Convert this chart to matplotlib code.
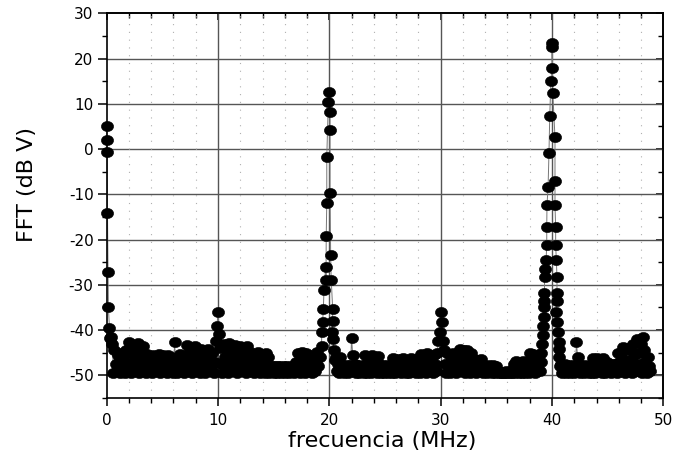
import numpy as np
import matplotlib
matplotlib.use("Agg")
import matplotlib.pyplot as plt
from matplotlib.ticker import MultipleLocator
from matplotlib.path import Path

plt.rcParams['font.family'] = ['DejaVu Sans']
plt.rcParams['axes.unicode_minus'] = False

# ---------------- data (MHz, dB V) ----------------
dc_freq = [0.00, 0.02, 0.04, 0.07, 0.12, 0.15, 0.25, 0.32]
dc_db = [5.1, 2.1, -0.6, -14.1, -27.2, -34.9, -39.6, -41.8]

bin_width = 0.1

# noise floor 0.4 .. 19.0 MHz (includes small 10 MHz line)
noise_a_start = 0.4
noise_a_db = [
    -41.5, -43.0, -49.5, -44.5, -47.5, -49.0, -45.5, -47.0, -49.5, -45.0,
    -48.0, -46.5, -49.5, -44.5, -47.5, -49.0, -42.6, -45.0, -49.5, -47.0,
    -43.5, -49.0, -45.5, -47.5, -42.8, -49.5, -44.5, -46.5, -49.0, -43.5,
    -47.5, -49.5, -45.2, -47.0, -49.0, -46.0, -48.0, -49.5, -45.5, -47.5,
    -49.0, -46.0, -48.5, -45.2, -49.5, -47.0, -48.5, -45.5, -49.0, -47.0,
    -49.5, -45.5, -47.5, -49.0, -46.0, -48.5, -49.5, -42.7, -47.5, -49.5,
    -46.5, -48.5, -45.2, -49.0, -47.0, -49.5, -45.5, -48.0, -43.4, -46.0,
    -49.0, -44.0, -47.5, -49.5, -45.5, -43.6, -48.0, -49.0, -45.0, -47.0,
    -49.5, -44.1, -46.5, -48.5, -49.5, -45.0, -47.5, -44.2, -49.0, -46.5,
    -48.5, -45.0, -49.5, -47.0, -42.3, -39.0, -36.0, -40.8, -44.0, -47.5,
    -49.5, -43.0, -46.0, -48.5, -44.5, -49.5, -42.9, -47.0, -45.5, -49.0,
    -46.5, -43.3, -48.5, -49.5, -45.0, -47.5, -43.5, -49.0, -46.5, -48.0,
    -45.0, -49.5, -43.5, -47.0, -49.0, -44.8, -46.5, -48.5, -49.5, -45.5,
    -47.5, -49.0, -44.8, -46.5, -49.5, -48.0, -45.5, -47.0, -49.5, -45.0,
    -48.0, -46.0, -49.5, -47.9, -49.0, -48.0, -49.5, -47.9, -48.8, -49.5,
    -48.0, -49.0, -47.9, -49.5, -48.5, -48.0, -49.5, -47.9, -49.0, -48.2,
    -49.5, -48.0, -49.0, -47.9, -49.5, -48.5, -47.0, -49.0, -45.0, -47.5,
    -49.5, -44.8, -46.5, -48.5, -49.5, -45.0, -47.0, -49.0, -45.5, -48.0,
    -49.5, -46.3, -48.0, -49.0, -46.5, -44.8, -48.0,
]

peak20_freq = [19.20, 19.30, 19.32, 19.40, 19.46, 19.52, 19.67, 19.70, 19.72,
               19.77, 19.77, 19.91, 19.97,
               20.06, 20.06, 20.06, 20.12, 20.17, 20.30, 20.30, 20.25, 20.36,
               20.40, 20.50]
peak20_db = [-46.0, -43.5, -40.4, -38.2, -35.3, -31.2, -26.0, -28.9, -19.1,
             -11.9, -1.7, 10.4, 12.6,
             8.2, 4.2, -9.7, -23.5, -28.9, -35.3, -38.0, -40.4, -42.0,
             -44.5, -46.5]

# noise floor 20.6 .. 38.8 MHz (includes small 30 MHz line)
noise_b_start = 20.6
noise_b_db = [
    -46.0, -49.0, -47.5, -49.5, -46.0, -48.5, -47.8, -49.5, -48.0, -49.0,
    -47.8, -49.5, -48.5, -47.8, -41.8, -45.6, -49.0, -47.5, -49.5, -48.0,
    -47.8, -49.5, -48.5, -49.0, -47.8, -49.5, -45.6, -47.5, -49.5, -46.0,
    -48.5, -49.5, -45.6, -47.0, -49.0, -46.5, -48.5, -49.5, -45.8, -47.5,
    -49.5, -48.0, -47.8, -49.5, -48.5, -49.0, -47.8, -49.5, -48.5, -47.9,
    -49.5, -46.2, -48.0, -49.5, -47.0, -49.0, -46.3, -48.5, -49.5, -47.0,
    -46.2, -49.0, -48.0, -49.5, -46.5, -47.5, -49.5, -46.2, -48.5, -49.0,
    -47.0, -46.3, -49.5, -48.0, -47.0, -49.5, -45.2, -47.5, -49.0, -46.0,
    -48.5, -49.5, -45.0, -47.0, -49.0, -46.0, -48.0, -49.5, -45.5, -47.5,
    -49.0, -45.0, -42.3, -40.4, -36.0, -38.2, -42.3, -44.5, -47.5, -49.5,
    -45.0, -47.5, -49.5, -46.0, -48.5, -45.0, -49.0, -47.0, -49.5, -45.5,
    -47.5, -44.2, -49.0, -46.0, -48.5, -44.5, -49.5, -46.5, -44.3, -48.0,
    -49.5, -45.0, -47.5, -49.0, -46.3, -48.0, -49.5, -46.5, -48.5, -49.0,
    -46.3, -48.0, -49.5, -47.8, -49.0, -48.5, -49.5, -47.8, -49.0, -48.5,
    -49.5, -47.8, -48.8, -49.5, -48.0, -49.0, -49.5, -49.3, -49.5, -49.2,
    -49.5, -49.3, -49.5, -49.0, -49.5, -49.3, -49.5, -49.2, -49.5, -48.5,
    -47.5, -49.5, -46.8, -48.5, -49.5, -47.0, -48.5, -49.5, -46.8, -48.0,
    -49.5, -47.0, -48.5, -49.5, -45.0, -47.5, -49.0, -45.2, -48.0, -49.5,
    -46.5, -48.5, -45.5,
]

peak40_freq = [38.95, 39.00, 39.05, 39.10, 39.15, 39.20, 39.25, 39.28, 39.30,
               39.32, 39.34, 39.40, 39.47, 39.53, 39.53, 39.55, 39.65, 39.73,
               39.80, 39.90, 40.00, 40.00, 40.02,
               40.07, 40.27, 40.27, 40.27, 40.33, 40.33, 40.39, 40.45, 40.45,
               40.45, 40.40, 40.45, 40.51, 40.60, 40.63, 40.65, 40.70]
peak40_db = [-49.0, -47.0, -45.0, -43.0, -41.0, -39.0, -37.0, -35.0, -33.6,
             -31.8, -28.3, -26.4, -24.4, -21.3, -17.2, -12.4, -8.4, -0.8,
             7.3, 15.0, 18.0, 22.6, 23.4,
             12.4, 2.6, -7.0, -12.4, -17.2, -21.3, -24.4, -28.3, -31.8,
             -33.6, -36.0, -38.2, -40.4, -42.7, -44.1, -46.0, -48.0]

# noise floor 40.8 .. 48.8 MHz
noise_c_start = 40.8
noise_c_db = [
    -47.5, -49.5, -48.5, -49.0, -47.5, -49.5, -48.0, -47.8, -49.5, -48.5,
    -49.0, -47.8, -49.5, -48.0, -42.7, -45.9, -48.5, -49.5, -47.8, -49.0,
    -48.0, -49.5, -47.8, -49.0, -48.5, -49.5, -47.8, -49.0, -49.5, -46.2,
    -48.0, -49.5, -46.2, -47.5, -49.0, -46.5, -48.5, -49.5, -46.2, -48.0,
    -49.5, -47.0, -47.5, -49.0, -48.5, -49.5, -47.5, -48.5, -49.0, -47.5,
    -49.5, -45.0, -47.0, -49.0, -45.2, -48.5, -43.8, -46.5, -49.5, -44.0,
    -47.0, -49.0, -44.5, -46.5, -49.5, -43.0, -45.5, -48.0, -42.0, -49.0,
    -45.0, -47.5, -43.0, -49.5, -41.5, -44.5, -47.0, -49.5, -46.0, -48.0,
    -49.0,
]


def bins(start, vals):
    return list(np.round(start + bin_width * np.arange(len(vals)), 3))


freq = (dc_freq + bins(noise_a_start, noise_a_db) + peak20_freq
        + bins(noise_b_start, noise_b_db) + peak40_freq
        + bins(noise_c_start, noise_c_db))
fft_db = (dc_db + noise_a_db + peak20_db + noise_b_db + peak40_db + noise_c_db)

# slightly wide elliptical dot, as in the scanned original
_c = Path.unit_circle()
dot = Path(_c.vertices * np.array([1.2, 1.0]), _c.codes)

# ---------------- figure ----------------
W, H = 674, 471
fig = plt.figure(figsize=(W / 100, H / 100), dpi=100)
ax = fig.add_axes([106.7 / W, 1 - 398 / H, (663.3 - 106.7) / W, (398 - 13.3) / H])

ax.set_xlim(0, 50)
ax.set_ylim(-55, 30)

ax.xaxis.set_major_locator(MultipleLocator(10))
ax.xaxis.set_minor_locator(MultipleLocator(2))
ax.yaxis.set_major_locator(MultipleLocator(10))
ax.yaxis.set_minor_locator(MultipleLocator(5))

# grid
for xv in range(10, 50, 10):
    ax.axvline(xv, color='#555555', lw=1.0, zorder=1)
for yv in range(-50, 30, 10):
    ax.axhline(yv, color='#555555', lw=1.0, zorder=1)
for xv in range(2, 50, 2):
    if xv % 10:
        ax.axvline(xv, color='#b0b0b0', lw=0.8, ls=(0, (1, 6)), zorder=1)

ax.plot(freq, fft_db, color='#777777', lw=0.7, zorder=2, clip_on=False)
ax.plot(freq, fft_db, ls='none', marker=dot, ms=8.8, mfc='black', mec='black',
        mew=0.4, zorder=3, clip_on=False)

for s in ax.spines.values():
    s.set_linewidth(1.2)
    s.set_color('black')
    s.set_zorder(4)

ax.tick_params(axis='x', which='major', direction='out', length=6, width=1.1,
               labelsize=11, colors='black', pad=5)
ax.tick_params(axis='y', which='major', direction='out', length=6.5, width=1.1,
               labelsize=11, colors='black', pad=3)
ax.tick_params(axis='both', which='minor', direction='out', length=3.5, width=1.0)

secx = ax.secondary_xaxis('top')
secx.xaxis.set_major_locator(MultipleLocator(10))
secx.xaxis.set_minor_locator(MultipleLocator(2))
secx.tick_params(which='major', direction='in', length=5, width=1.1, labeltop=False)
secx.tick_params(which='minor', direction='in', length=3.5, width=1.0)
secx.spines['top'].set_linewidth(1.2)

secy = ax.secondary_yaxis('right')
secy.yaxis.set_major_locator(MultipleLocator(10))
secy.yaxis.set_minor_locator(MultipleLocator(5))
secy.tick_params(which='major', direction='in', length=5, width=1.1, labelright=False)
secy.tick_params(which='minor', direction='in', length=3.5, width=1.0)
secy.spines['right'].set_linewidth(1.2)

fig.text(382 / W, 1 - 441 / H, 'frecuencia (MHz)', fontsize=16,
         ha='center', va='center')
fig.text(27 / W, 1 - 184 / H, 'FFT (dB V)', fontsize=16, rotation=90,
         ha='center', va='center')

fig.savefig('out.png', dpi=100)
